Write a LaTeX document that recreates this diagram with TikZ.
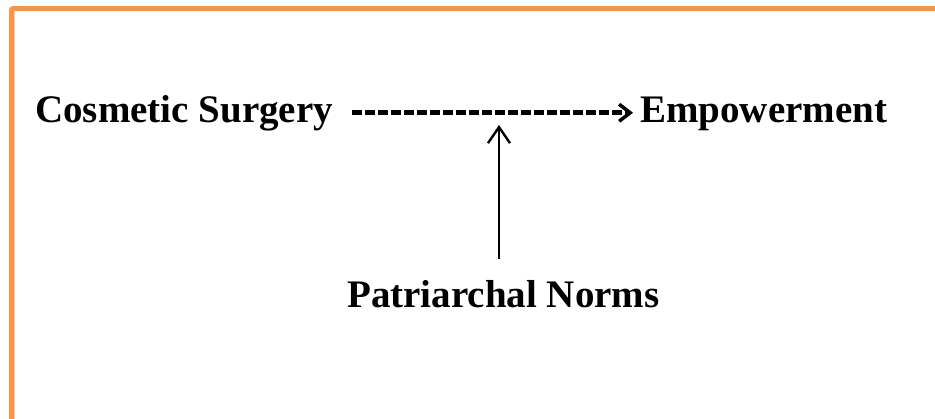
\documentclass[tikz,border=0pt]{standalone}
\usepackage{fontspec}
\setmainfont{Liberation Serif}
\usetikzlibrary{arrows.meta}
\definecolor{borderorange}{HTML}{F79646}
\definecolor{borderlight}{HTML}{FBC9A0}
\begin{document}
\begin{tikzpicture}[x=1pt,y=-1pt,
  label/.style={inner sep=0pt, font=\fontsize{39}{47}\selectfont\bfseries, anchor=base west},
  dashconn/.style={line width=4.6pt, dash pattern=on 10pt off 3pt,
    -{Straight Barb[length=11pt,width=17pt,line width=3.5pt]}},
  upconn/.style={line width=2.4pt,
    -{Straight Barb[length=16pt,width=22pt,line width=2.4pt]}},
  frame/.style={draw=borderorange, line width=5pt, rounded corners=2pt}]
\useasboundingbox (0,0) rectangle (935,418);
\clip (0,0) rectangle (935,418);
\fill[white] (0,0) rectangle (935,418);
% frame (top and left edges only)
\draw[frame] (11.5,430) -- (11.5,8.5) -- (945,8.5);
\draw[borderlight, line width=1pt] (14.5,430) -- (14.5,11);
% nodes
\node[label] (cs) at (35,122) {Cosmetic Surgery};
\node[label] (emp) at (640,122) {Empowerment};
\node[label] (pn) at (347,307) {Patriarchal Norms};
\coordinate (tip) at (499,125);
% connectors
\draw[dashconn] ([xshift=19pt]cs.east) -- ([xshift=-7pt]cs.east -| emp.west);
\draw[upconn] ([yshift=21pt]tip |- pn.north) -- (tip);
\end{tikzpicture}
\end{document}
